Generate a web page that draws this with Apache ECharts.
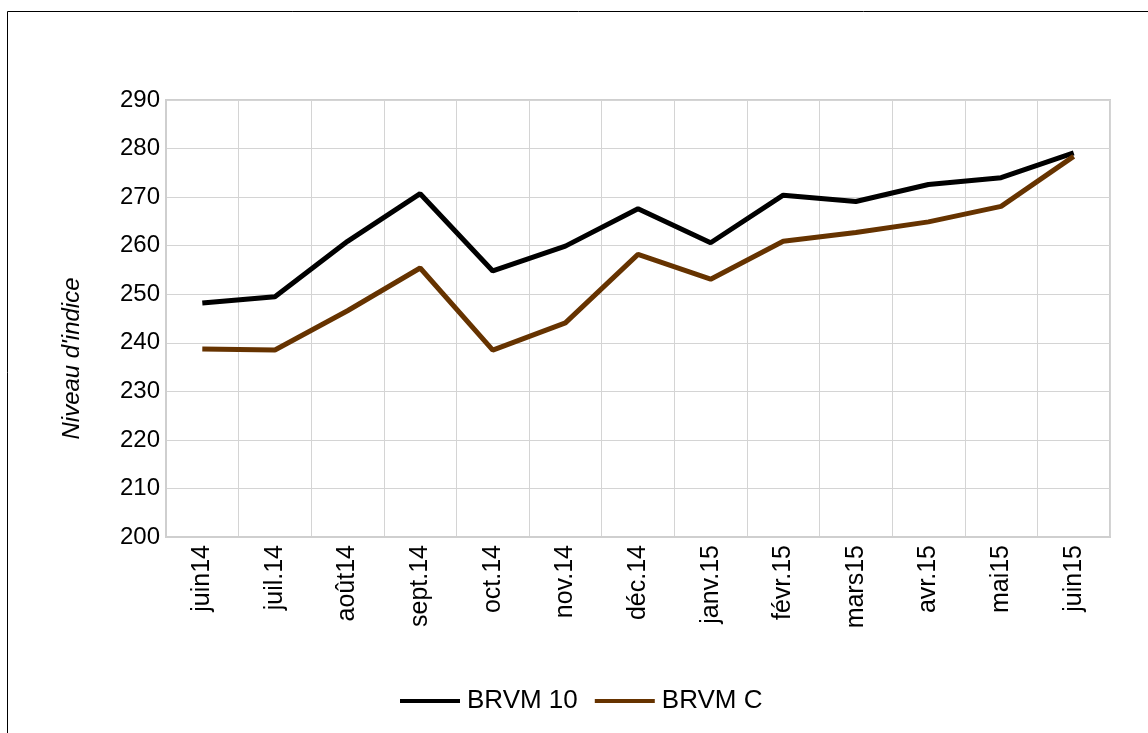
<!DOCTYPE html>
<html>
<head>
<meta charset="utf-8">
<script src="https://cdn.jsdelivr.net/npm/echarts@6/dist/echarts.min.js"></script>
<style>
  html, body { margin: 0; padding: 0; background: #fff; }
  #chart { width: 1148px; height: 733px; }
</style>
</head>
<body>
<div id="chart"></div>
<script>
// months, juin 2014 -> juin 2015
const months = ['juin14', 'juil.14', 'août14', 'sept.14', 'oct.14', 'nov.14', 'déc.14',
  'janv.15', 'févr.15', 'mars15', 'avr.15', 'mai15', 'juin15'];
const brvm10 = [248.2, 249.5, 260.9, 270.7, 254.8, 259.9, 267.6, 260.6, 270.4, 269.1, 272.6, 274.0, 279.1];
const brvmC = [238.7, 238.5, 246.6, 255.4, 238.5, 244.1, 258.2, 253.1, 260.9, 262.7, 264.9, 268.1, 278.4];

const FONT = '"Liberation Sans", Arial, sans-serif';

let chart = echarts.init(document.getElementById('chart'));
chart.setOption({
  animation: false,
  textStyle: { fontFamily: FONT },
  graphic: [{
    type: 'rect',
    shape: { x: 7.5, y: 11.5, width: 1300, height: 900 },
    style: { fill: 'none', stroke: '#000', lineWidth: 1 },
    silent: true
  }],
  grid: {
    left: 166, right: 38, top: 100, bottom: 196,
    show: true, borderColor: '#cfcfcf', borderWidth: 2, containLabel: false
  },
  legend: {
    bottom: 14,
    left: 395,
    itemWidth: 60,
    itemHeight: 4,
    itemGap: 17,
    icon: 'rect',
    textStyle: { fontSize: 26, color: '#000', fontFamily: FONT, padding: [0, 0, 0, 2] },
    data: ['BRVM 10', 'BRVM C']
  },
  xAxis: {
    type: 'category',
    data: months,
    boundaryGap: true,
    axisLine: { lineStyle: { color: '#cfcfcf', width: 2 } },
    axisTick: { show: false },
    splitLine: { show: true, lineStyle: { color: '#d4d4d4', width: 1 } },
    axisLabel: { rotate: 90, fontSize: 25, color: '#000', margin: 8, interval: 0 }
  },
  yAxis: {
    type: 'value',
    min: 200, max: 290, interval: 10,
    name: "Niveau d'indice",
    nameLocation: 'middle',
    nameGap: 82,
    // shift the title down a bit (it sits below the plot centre)
    nameTextStyle: { fontSize: 24, fontStyle: 'italic', color: '#000', padding: [0, 80, 0, 0] },
    axisLine: { show: true, lineStyle: { color: '#cfcfcf', width: 2 } },
    axisTick: { show: false },
    splitLine: { lineStyle: { color: '#d4d4d4', width: 1 } },
    axisLabel: { fontSize: 24, color: '#000', margin: 6 }
  },
  series: [
    {
      name: 'BRVM 10', type: 'line', data: brvm10,
      showSymbol: false, symbol: 'none',
      itemStyle: { color: '#000000' },
      lineStyle: { color: '#000000', width: 5 }
    },
    {
      name: 'BRVM C', type: 'line', data: brvmC,
      showSymbol: false, symbol: 'none',
      itemStyle: { color: '#663300' },
      lineStyle: { color: '#663300', width: 5 }
    }
  ]
});
</script>
</body>
</html>
